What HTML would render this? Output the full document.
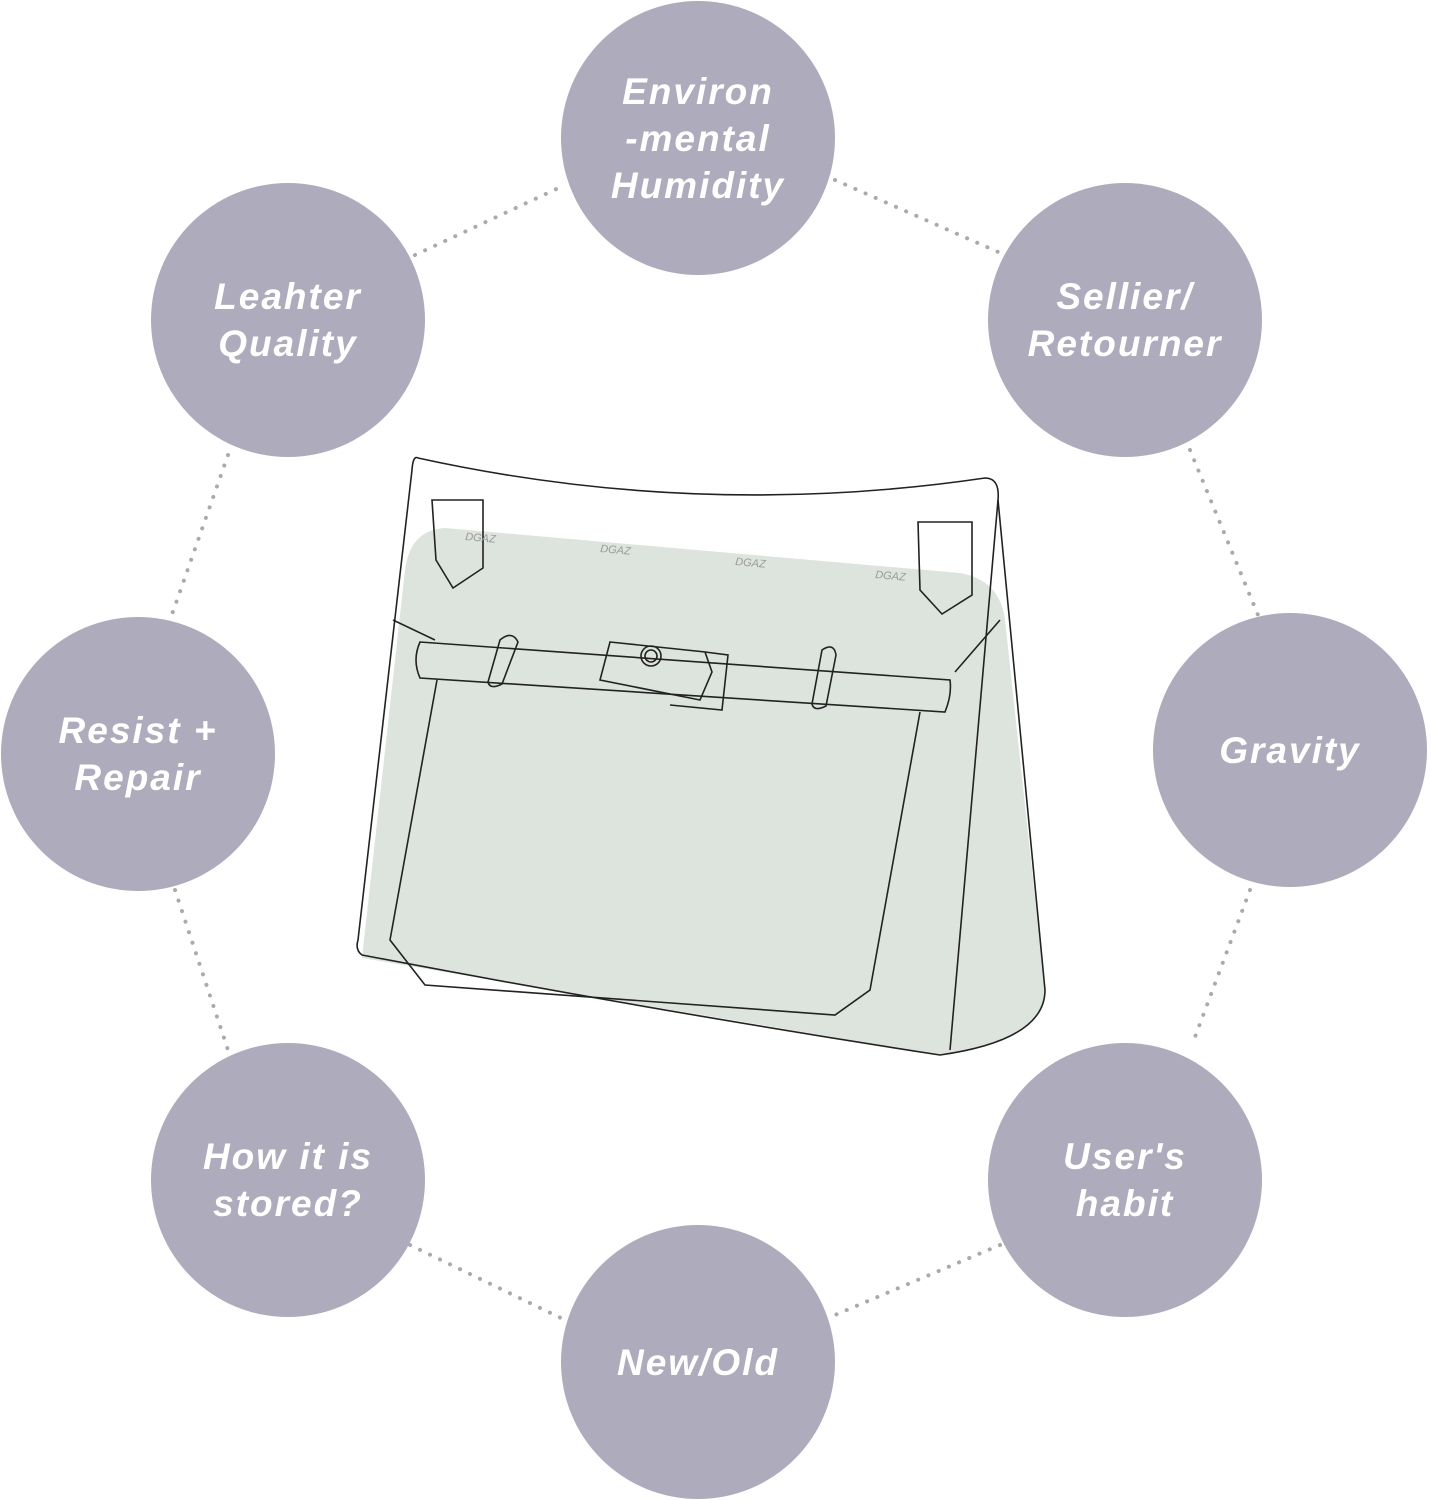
<!DOCTYPE html>
<html><head><style>
body{margin:0;width:1431px;height:1500px;background:#fff;overflow:hidden;position:relative;font-family:"Liberation Sans",sans-serif}
.c{position:absolute;width:274px;height:274px;border-radius:50%;background:#aeacbc;color:#fff;font-weight:bold;font-style:italic;font-size:37px;letter-spacing:2px;line-height:47px;display:flex;align-items:center;justify-content:center;text-align:center}
svg{position:absolute;left:0;top:0}
</style></head><body>
<svg width="1431" height="1500">
<g stroke="#aaaaaa" stroke-width="4" stroke-dasharray="0.1 11" stroke-linecap="round" fill="none">
<line x1="415" y1="255" x2="565" y2="185"/>
<line x1="835" y1="180" x2="1005" y2="255"/>
<line x1="228" y1="455" x2="170" y2="620"/>
<line x1="1190" y1="450" x2="1258" y2="615"/>
<line x1="175" y1="890" x2="228" y2="1050"/>
<line x1="1250" y1="890" x2="1192" y2="1045"/>
<line x1="410" y1="1245" x2="565" y2="1320"/>
<line x1="1000" y1="1245" x2="835" y2="1315"/>
</g>
<path d="M445,528 L960,573 Q1000,580 1005,620 L1045,990 Q1045,1040 940,1055 L362,958 L405,570 Q410,530 445,528 Z" fill="#dde4de"/>
<g fill="none" stroke="#222" stroke-width="1.6">
<path d="M418,458 Q700,520 985,478 Q1000,478 998,500 L1045,990 Q1045,1040 940,1055 Q650,1010 362,955 Q355,950 358,940 L412,470 Q413,455 418,458 Z"/>
<path d="M998,500 L950,1050"/>
<path d="M432,500 L483,500 L483,568 L453,588 L436,560 Z"/>
<path d="M918,522 L972,522 L972,595 L942,614 L920,590 Z"/>
<path d="M393,620 L435,640"/>
<path d="M1000,620 L955,672"/>
<path d="M420,642 L950,680 Q952,695 945,712 L420,678 Q412,660 420,642 Z"/>
<path d="M500,640 Q512,630 518,642 L502,684 Q490,690 488,682 Z"/>
<path d="M822,650 Q834,642 836,655 L826,706 Q814,712 812,704 Z"/>
<path d="M610,642 L705,652 L712,672 L700,700 L600,680 Z"/>
<path d="M705,652 L728,655 L722,710 L670,705"/>
<circle cx="651" cy="656" r="10"/><circle cx="651" cy="656" r="6"/>
<path d="M437,680 L390,940 L425,985 L835,1015 L870,990 L920,712"/>
</g>
<g fill="#999" font-size="11" font-family="Liberation Sans" font-style="italic">
<text x="465" y="540" transform="rotate(5 465 540)">DGAZ</text>
<text x="600" y="552" transform="rotate(5 600 552)">DGAZ</text>
<text x="735" y="565" transform="rotate(5 735 565)">DGAZ</text>
<text x="875" y="578" transform="rotate(5 875 578)">DGAZ</text>
</g>
</svg>
<div class="c" style="left:561px;top:1px">Environ<br>-mental<br>Humidity</div>
<div class="c" style="left:151px;top:183px">Leahter<br>Quality</div>
<div class="c" style="left:988px;top:183px">Sellier/<br>Retourner</div>
<div class="c" style="left:1px;top:617px">Resist +<br>Repair</div>
<div class="c" style="left:1153px;top:613px">Gravity</div>
<div class="c" style="left:151px;top:1043px">How it is<br>stored?</div>
<div class="c" style="left:988px;top:1043px">User's<br>habit</div>
<div class="c" style="left:561px;top:1225px">New/Old</div>
</body></html>
